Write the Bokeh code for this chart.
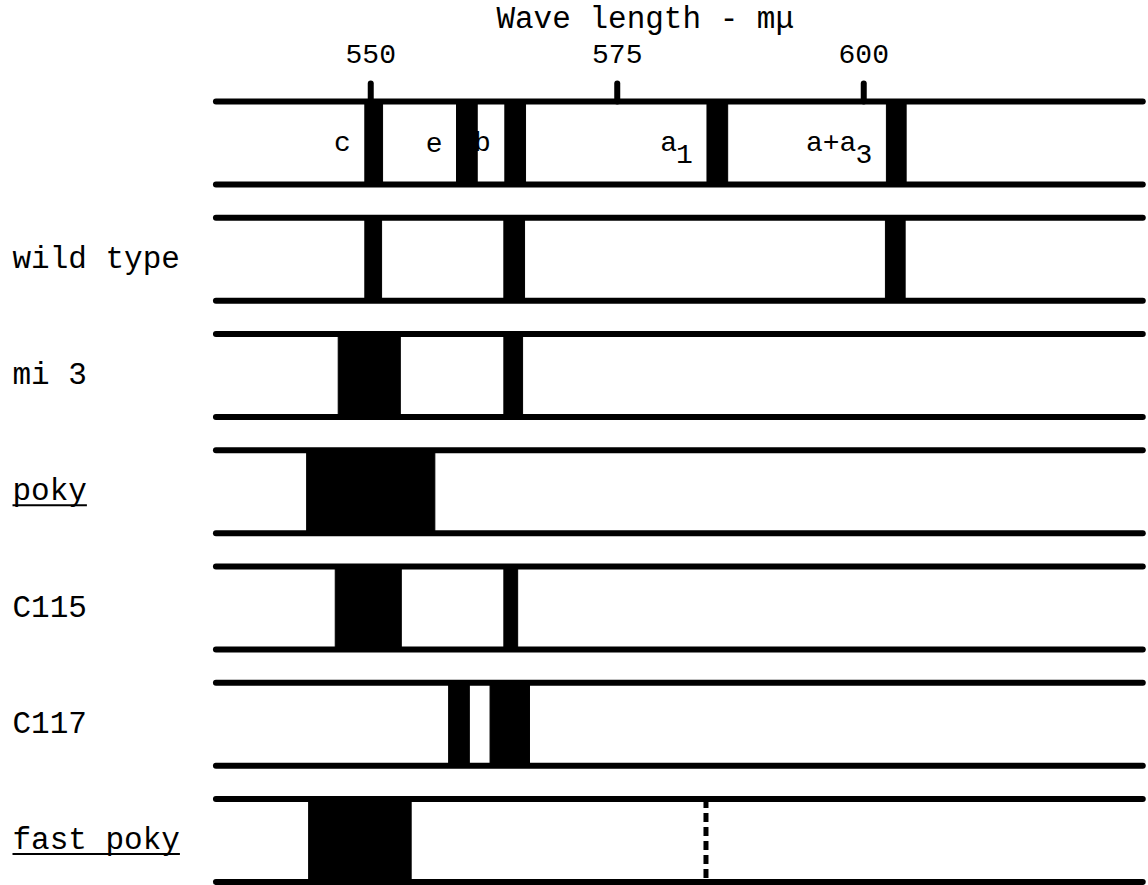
from bokeh.plotting import figure
from bokeh.models import Range1d
from bokeh.core.properties import value
from bokeh.embed import file_html
from bokeh.resources import INLINE

# ---------------- data ----------------
tick_values = [550, 575, 600]
tick_labels = ["550", "575", "600"]
axis_title = "Wave length - mμ"

row_names = ["wild type", "mi 3", "poky", "C115", "C117", "fast poky"]
row_underlined = [False, False, True, False, False, True]

# reference spectrum (absorption bands, nm)
ref_band_names = ["c", "e", "b", "a", "a+a"]
ref_band_subs = ["", "", "", "1", "3"]
ref_band_start = [549.4, 558.7, 563.6, 584.1, 602.3]
ref_band_end = [551.2, 560.8, 565.7, 586.2, 604.3]

# strains (absorption bands, nm)
wild_type_start = [549.4, 563.5, 602.2]
wild_type_end = [551.1, 565.6, 604.2]
mi3_start = [546.7, 563.5]
mi3_end = [553.0, 565.4]
poky_start = [543.5]
poky_end = [556.5]
c115_start = [546.4, 563.5]
c115_end = [553.1, 564.9]
c117_start = [557.9, 562.1]
c117_end = [560.0, 566.1]
fast_poky_start = [543.7]
fast_poky_end = [554.1]
fast_poky_faint = [584.0]

# ---------------- layout ----------------
FONT = "Liberation Mono"
W, H = 1148, 885
PX_PER_NM = 9.86
X0 = 512.45
X1 = X0 + W / PX_PER_NM
Y_TOP = -1.226
Y_BOT = Y_TOP + H / 116.25
HALF = 0.357           # half-height of a strip (row units)
LINE_START, LINE_END = 534.3, 628.3

p = figure(width=W, height=H, x_range=Range1d(X0, X1), y_range=Range1d(Y_BOT, Y_TOP),
           toolbar_location=None, output_backend="svg", min_border=0,
           x_axis_location=None, y_axis_location=None)
p.outline_line_color = None
p.grid.visible = False
p.background_fill_color = "white"
p.border_fill_color = "white"

strains = [
    (wild_type_start, wild_type_end),
    (mi3_start, mi3_end),
    (poky_start, poky_end),
    (c115_start, c115_end),
    (c117_start, c117_end),
    (fast_poky_start, fast_poky_end),
]

all_rows = [(ref_band_start, ref_band_end)] + strains
n_rows = len(all_rows)

# strip border lines
ly = []
for i in range(n_rows):
    ly += [i - HALF, i + HALF]
p.segment(x0=[LINE_START] * len(ly), x1=[LINE_END] * len(ly), y0=ly, y1=ly,
          line_width=6, line_color="black", line_cap="round")

# bands
L, R, T, B = [], [], [], []
for i, (s, e) in enumerate(all_rows):
    for a, b in zip(s, e):
        L.append(a); R.append(b); T.append(i - HALF); B.append(i + HALF)
p.quad(left=L, right=R, top=T, bottom=B, fill_color="black", line_color="black", line_width=1)

# faint dotted band for fast poky
fp_row = n_rows - 1
p.segment(x0=fast_poky_faint, x1=fast_poky_faint,
          y0=[fp_row - HALF] * len(fast_poky_faint), y1=[fp_row + HALF] * len(fast_poky_faint),
          line_width=5, line_color="black", line_dash="9 5")

# ticks on the reference strip
p.segment(x0=tick_values, x1=tick_values, y0=[-HALF] * 3, y1=[-HALF - 0.155] * 3,
          line_width=6, line_color="black", line_cap="round")
p.text(x=tick_values, y=[-0.77] * 3, text=tick_labels, text_font=value(FONT),
       text_font_size="28px", text_align="center", text_baseline="middle", text_color="black")

# axis title
p.text(x=[tick_values[1]], y=[-1.065], text=[axis_title], text_font=value(FONT),
       text_font_size="31px", text_align="center", text_baseline="middle",
       x_offset=28, text_color="black")

# band labels on reference strip
for name, sub, start in zip(ref_band_names, ref_band_subs, ref_band_start):
    off = -14 - (16 if sub else 0)
    p.text(x=[start], y=[0.0], text=[name], text_font=value(FONT), text_font_size="28px",
           text_align="right", text_baseline="middle", x_offset=off, text_color="black")
    if sub:
        p.text(x=[start], y=[0.0], text=[sub], text_font=value(FONT), text_font_size="28px",
               text_align="left", text_baseline="middle", x_offset=off - 1, y_offset=11,
               text_color="black")

# row labels
ys = [i + 1 for i in range(len(row_names))]
p.text(x=[X0] * len(row_names), y=ys, text=row_names, text_font=value(FONT),
       text_font_size="31px", text_align="left", text_baseline="middle", x_offset=12,
       text_color="black")
for name, u, y in zip(row_names, row_underlined, ys):
    if u:
        left = X0 + 12 / PX_PER_NM
        w_nm = len(name) * 18.6 / PX_PER_NM
        p.segment(x0=[left], x1=[left + w_nm], y0=[y + 0.115], y1=[y + 0.115],
                  line_width=2, line_color="black")

open("out.html", "w").write(file_html(p, INLINE))
